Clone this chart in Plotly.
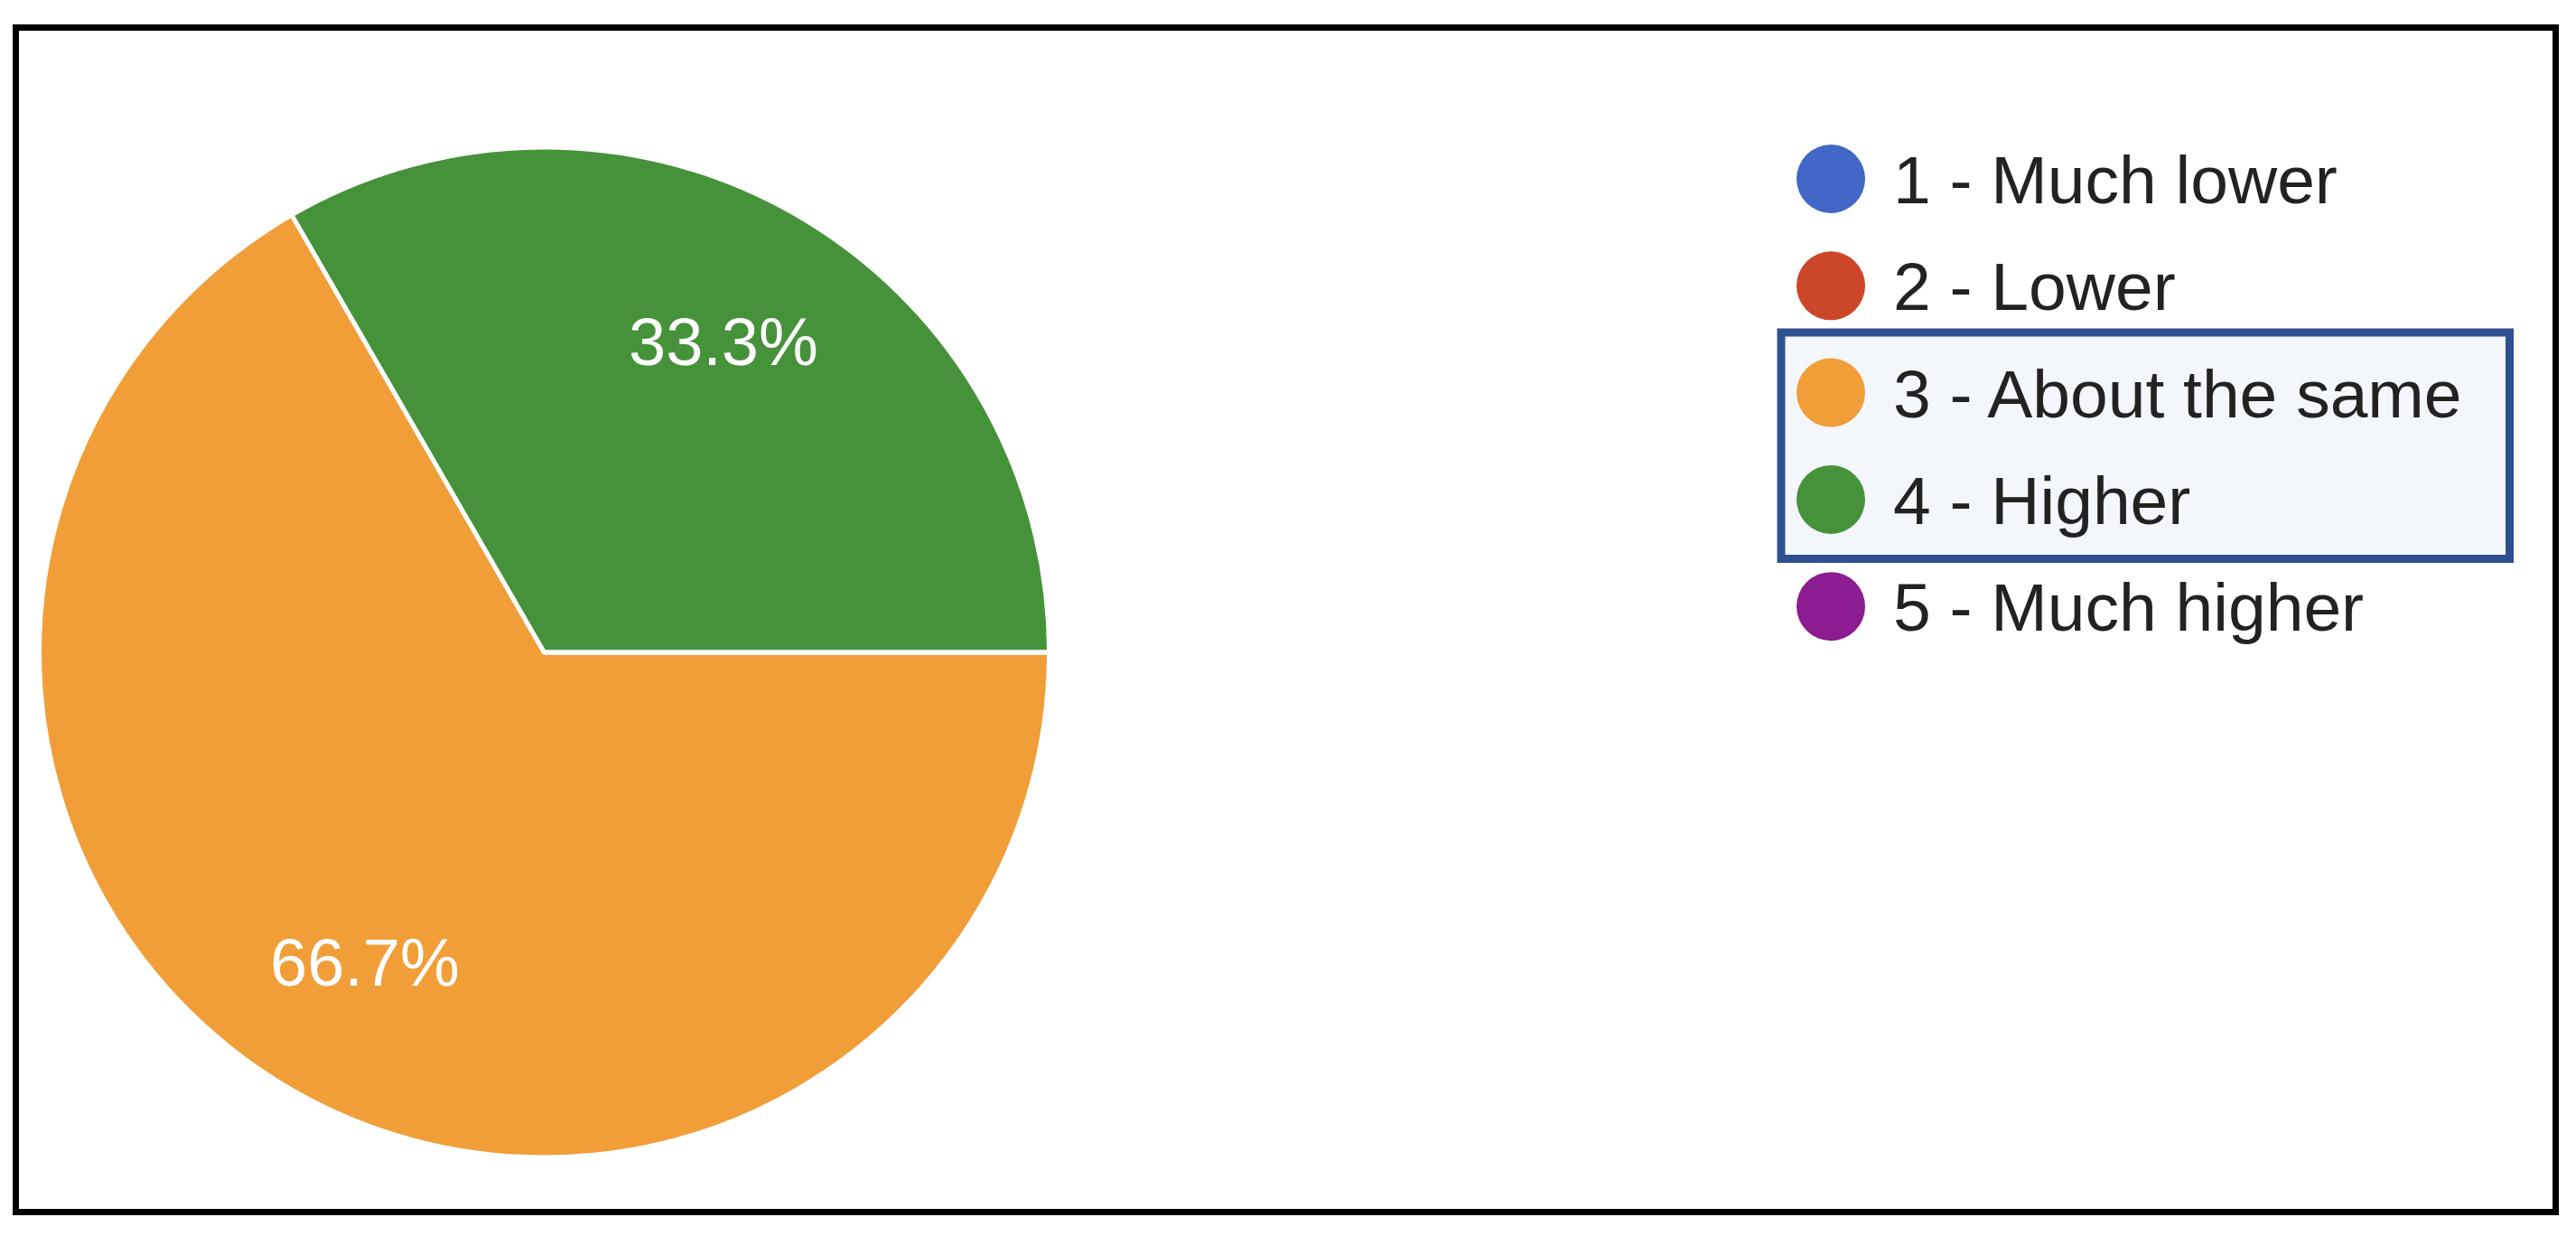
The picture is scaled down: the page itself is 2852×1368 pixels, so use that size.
import math
import plotly.graph_objects as go

W, H = 2852, 1368
OFF = 8                      # default page body margin
FW, FH = W - 2 * OFF, H - 2 * OFF

# ---- data ----
labels = ["1 - Much lower", "2 - Lower", "3 - About the same", "4 - Higher", "5 - Much higher"]
counts = [0, 0, 2, 1, 0]
colors = ["#4267C6", "#CC4729", "#F19E38", "#46923A", "#8C1C91"]
highlighted = ["3 - About the same", "4 - Higher"]

total = sum(counts)


def px(x):
    return (x - OFF) / FW


def py(y):
    return 1 - (y - OFF) / FH


cx, cy, R = 602.5, 722, 559
start_angle = 90  # degrees clockwise from 12 o'clock

fig = go.Figure()
fig.add_trace(go.Pie(
    labels=labels,
    values=counts,
    textinfo="none",
    marker=dict(colors=colors, line=dict(color="white", width=5)),
    sort=False,
    direction="clockwise",
    rotation=start_angle,
    showlegend=False,
    hoverinfo="label+percent",
    domain=dict(x=[px(cx - R), px(cx + R)], y=[py(cy + R), py(cy - R)]),
))

annotations = []
# percentage labels placed along each slice's bisector
cum = 0.0
for c in counts:
    if c > 0:
        frac = c / total
        mid = math.radians(start_angle + 360 * (cum + frac / 2))
        lx = cx + 0.71 * R * math.sin(mid)
        ly = cy - 0.71 * R * math.cos(mid)
        annotations.append(dict(x=px(lx), y=py(ly), xref="paper", yref="paper",
                                text=f"{frac * 100:.1f}%", showarrow=False,
                                xanchor="center", yanchor="middle",
                                font=dict(family="Liberation Sans, Arial, sans-serif",
                                          size=74, color="white")))
    cum += c / total

shapes = []
# outer black frame
shapes.append(dict(type="rect", xref="paper", yref="paper",
                   x0=px(17.5), x1=px(2829.5), y0=py(30.5), y1=py(1341.5),
                   line=dict(color="black", width=7), fillcolor="rgba(0,0,0,0)"))

# legend
row_y0, row_dy = 198, 118.3
rows_y = [row_y0 + i * row_dy for i in range(len(labels))]
hi_rows = [rows_y[labels.index(l)] for l in highlighted]
shapes.append(dict(type="rect", xref="paper", yref="paper",
                   x0=px(1972), x1=px(2778.5),
                   y0=py(min(hi_rows) - 66.5), y1=py(max(hi_rows) + 65.5),
                   line=dict(color="#2F5190", width=9), fillcolor="#F3F7FC", layer="above"))

for lab, col, ry in zip(labels, colors, rows_y):
    shapes.append(dict(type="circle", xref="paper", yref="paper",
                       x0=px(1989), x1=px(2065), y0=py(ry + 38), y1=py(ry - 38),
                       line=dict(width=0), fillcolor=col, layer="above"))
    annotations.append(dict(x=px(2094), y=py(ry + 1), xref="paper", yref="paper",
                            text=lab, showarrow=False, xanchor="left", yanchor="middle",
                            font=dict(family="Liberation Sans, Arial, sans-serif",
                                      size=75, color="#222222")))

fig.update_layout(
    width=FW, height=FH,
    margin=dict(l=0, r=0, t=0, b=0),
    paper_bgcolor="white",
    plot_bgcolor="white",
    shapes=shapes,
    annotations=annotations,
)

fig.write_html("out.html")
